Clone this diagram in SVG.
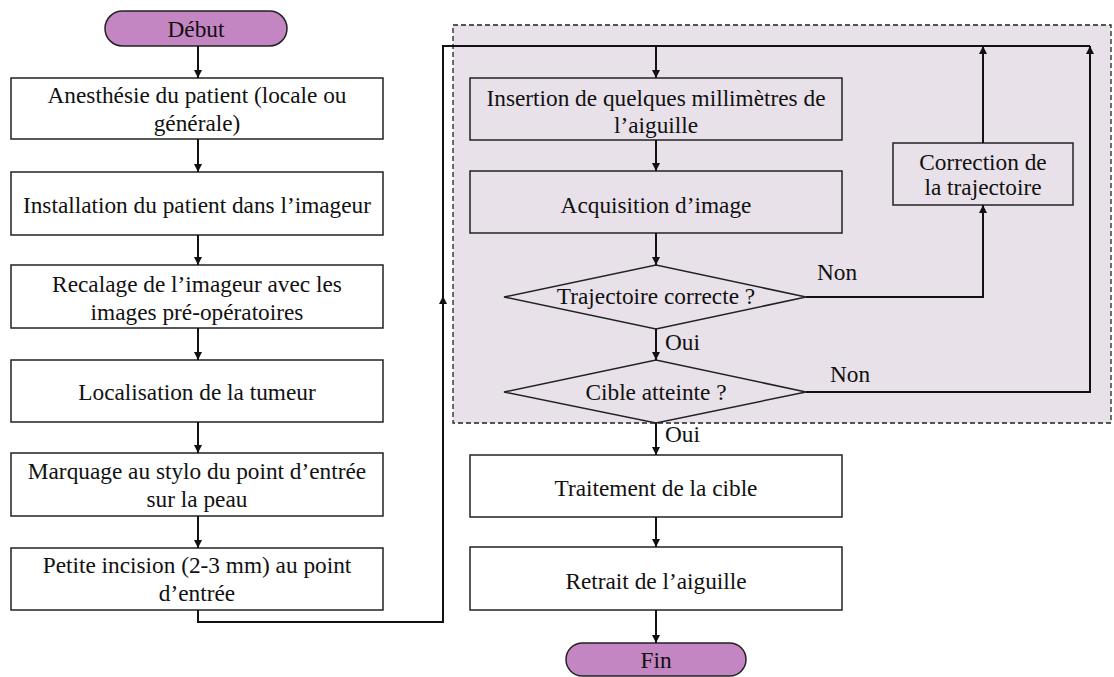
<svg xmlns="http://www.w3.org/2000/svg" width="1114" height="677" viewBox="0 0 1114 677">
<style>
text{font-family:"Liberation Serif","Times New Roman",serif;font-size:23.3px;fill:#111;text-anchor:middle}
.lbl{text-anchor:start}
.box{fill:#fff;stroke:#222;stroke-width:1.5}
.ibox{fill:none;stroke:#222;stroke-width:1.5}
.term{fill:#c485c3;stroke:#222;stroke-width:1.5}
.con{fill:none;stroke:#111;stroke-width:2}
</style>
<defs>
<marker id="ah" viewBox="0 0 10 10" refX="10" refY="5" markerWidth="4.5" markerHeight="4" orient="auto" markerUnits="strokeWidth">
<path d="M0,0 L10,5 L0,10 z" fill="#111"/>
</marker>
</defs>
<rect id="region" x="453" y="25" width="658" height="398" fill="#e8e1e9" stroke="#222" stroke-width="1.3" stroke-dasharray="5,3"/>
<g id="debut"><rect class="term" x="105" y="11" width="182" height="35" rx="17.5"/><text x="196" y="37">Début</text></g>
<g id="anesthesie"><rect class="box" x="11" y="78" width="372" height="61"/><text x="197" y="103">Anesthésie du patient (locale ou</text><text x="197" y="131">générale)</text></g>
<g id="installation"><rect class="box" x="11" y="172" width="372" height="63"/><text x="197" y="213">Installation du patient dans l’imageur</text></g>
<g id="recalage"><rect class="box" x="11" y="265" width="372" height="63"/><text x="197" y="292">Recalage de l’imageur avec les</text><text x="197" y="320">images pré-opératoires</text></g>
<g id="localisation"><rect class="box" x="11" y="360" width="372" height="62"/><text x="197" y="400">Localisation de la tumeur</text></g>
<g id="marquage"><rect class="box" x="11" y="453" width="372" height="63"/><text x="197" y="479">Marquage au stylo du point d’entrée</text><text x="197" y="507">sur la peau</text></g>
<g id="incision"><rect class="box" x="11" y="548" width="372" height="62"/><text x="197" y="573">Petite incision (2-3 mm) au point</text><text x="197" y="601">d’entrée</text></g>
<g id="insertion"><rect class="ibox" x="470" y="78" width="372" height="62"/><text x="656" y="106">Insertion de quelques millimètres de</text><text x="656" y="133">l’aiguille</text></g>
<g id="acquisition"><rect class="ibox" x="470" y="171" width="372" height="62"/><text x="656" y="213">Acquisition d’image</text></g>
<g id="correction"><rect class="ibox" x="893" y="143" width="180" height="62"/><text x="983" y="170">Correction de</text><text x="983" y="195">la trajectoire</text></g>
<g id="trajectoire"><polygon class="ibox" points="504,297 656,265 806,297 656,329"/><text x="656" y="304">Trajectoire correcte ?</text></g>
<g id="cible"><polygon class="ibox" points="504,392 656,360 806,392 656,423"/><text x="656" y="400">Cible atteinte ?</text></g>
<g id="traitement"><rect class="box" x="470" y="455" width="372" height="62"/><text x="656" y="496">Traitement de la cible</text></g>
<g id="retrait"><rect class="box" x="470" y="547" width="372" height="63"/><text x="656" y="589">Retrait de l’aiguille</text></g>
<g id="fin"><rect class="term" x="566" y="643" width="180" height="33" rx="16.5"/><text x="656" y="668">Fin</text></g>
<g id="connectors">
<path class="con" d="M198,46 V78" marker-end="url(#ah)"/>
<path class="con" d="M198,139 V172" marker-end="url(#ah)"/>
<path class="con" d="M198,235 V265" marker-end="url(#ah)"/>
<path class="con" d="M198,328 V360" marker-end="url(#ah)"/>
<path class="con" d="M198,422 V453" marker-end="url(#ah)"/>
<path class="con" d="M198,516 V548" marker-end="url(#ah)"/>
<path class="con" d="M198,610 V622 H443 V296"  marker-end="url(#ah)"/>
<path class="con" d="M443,298 V46 H1090"/>
<path class="con" d="M656,46 V78" marker-end="url(#ah)"/>
<path class="con" d="M656,140 V171" marker-end="url(#ah)"/>
<path class="con" d="M656,233 V265" marker-end="url(#ah)"/>
<path class="con" d="M656,329 V360" marker-end="url(#ah)"/>
<path class="con" d="M806,297 H983 V205" marker-end="url(#ah)"/>
<path class="con" d="M983,143 V46" marker-end="url(#ah)"/>
<path class="con" d="M806,392 H1090 V46" marker-end="url(#ah)"/>
<path class="con" d="M656,423 V455" marker-end="url(#ah)"/>
<path class="con" d="M656,517 V547" marker-end="url(#ah)"/>
<path class="con" d="M656,610 V643" marker-end="url(#ah)"/>
<text class="lbl" x="817" y="280">Non</text>
<text class="lbl" x="830" y="382">Non</text>
<text class="lbl" x="665" y="350">Oui</text>
<text class="lbl" x="665" y="442">Oui</text>
</g>
</svg>
